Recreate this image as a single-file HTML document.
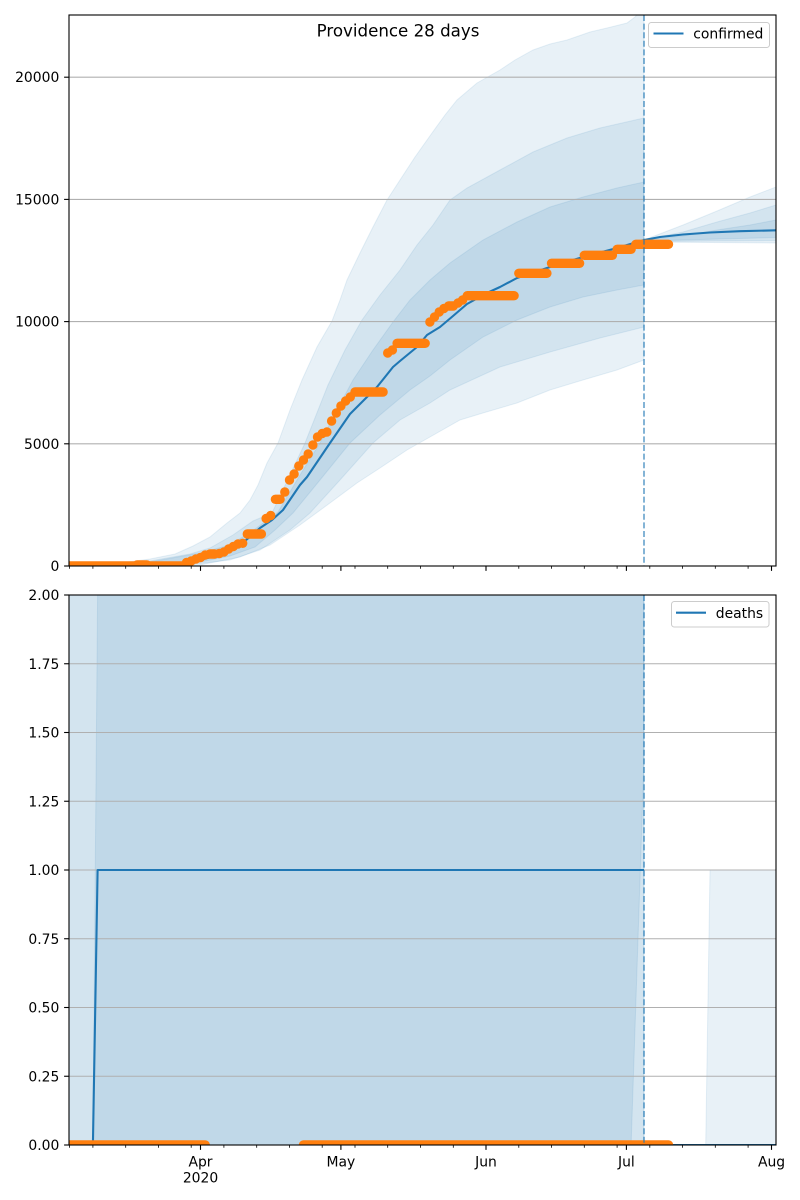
<!DOCTYPE html>
<html>
<head>
<meta charset="utf-8">
<style>
  html,body{margin:0;padding:0;background:#fff;}
  svg{display:block;}
  text{font-family:"DejaVu Sans","Liberation Sans",sans-serif;fill:#000;}
</style>
</head>
<body>
<svg width="800" height="1200" viewBox="0 0 800 1200" xmlns="http://www.w3.org/2000/svg">
  <defs>
    <clipPath id="c1"><rect x="69" y="15" width="707" height="551"/></clipPath>
    <clipPath id="c2"><rect x="69" y="595" width="707" height="550"/></clipPath>
  </defs>
  <rect width="800" height="1200" fill="#fff"/>

  <!-- ================= TOP AXES ================= -->
  <g clip-path="url(#c1)">
    <g fill="#1f77b4" fill-opacity="0.1" stroke="#1f77b4" stroke-opacity="0.1" stroke-width="1">
      <polygon points="69,566 110,564.5 150,559 175,554 193,546 210,537 227,523 240,513 250,500 258,485 267,463 278,443 290,410 302,380 317,347 332,321 340,300 347,280 360,253 373,227 387,200 400,180 415,157 432,133 445,115 457,100 477,83 500,70 515,60 533,50 550,44 567,40 590,32 607,28 627,23 635,17 641,10 644,3 644,360 617,370 583,380 550,390 517,403 483,413 460,420 430,437 407,450 380,468 357,483 330,503 300,525 270,545 240,557 200,565 150,566 69,566"/>
      <polygon points="69,566 150,561 190,554 210,548 233,535 253,521 272,513 290,475 305,443 328,385 345,350 362,320 380,295 400,270 417,245 433,225 450,200 467,188 500,170 533,152 567,138 600,128 644,118 644,327 600,338 550,352 500,367 450,390 430,403 400,420 373,443 340,480 310,513 290,530 260,550 230,560 200,563.5 150,565.5 69,566"/>
      <polygon points="69,566 150,562 200,553 230,545 255,529 270,518 278,512 300,475 320,443 337,410 353,380 373,350 393,322 410,300 430,280 450,263 483,240 517,222 550,207 583,197 617,188 644,182 644,285 617,290 583,297 550,307 517,320 483,337 450,360 430,376 410,390 380,415 350,443 320,480 293,513 275,530 255,547 230,556 200,562 150,565 69,566"/>
      <polygon points="644,240 683,225 717,211 750,197 776,187 776,243 644,242"/>
      <polygon points="644,240 683,232 717,222 750,213 776,205 776,240.5 644,241.5"/>
      <polygon points="644,240 683,236 717,230 750,225 776,220 776,237.5 644,241"/>
    </g>
    <g stroke="#b0b0b0" stroke-width="1.1">
      <line x1="69" y1="443.8" x2="776" y2="443.8"/>
      <line x1="69" y1="321.6" x2="776" y2="321.6"/>
      <line x1="69" y1="199.4" x2="776" y2="199.4"/>
      <line x1="69" y1="77.2" x2="776" y2="77.2"/>
    </g>
    <polyline fill="none" stroke="#1f77b4" stroke-width="2.1" stroke-linejoin="round" points="69.5,566 100,565.8 130,565.5 160,564.5 180,563 200,560 215,556 230,549.5 245,541 260,528 272,520 283,510 300,485 307,477 330,443 350,414 377,387 393,367 400,361 417,347 427,335 440,327 453,316 467,304 487,293 500,287 517,278 550,267 583,257 617,248 644,240"/>
    <polyline fill="none" stroke="#1f77b4" stroke-width="2.1" stroke-linejoin="round" points="644,240 660,237 683,234.5 710,232.5 740,231.2 776,230.3"/>
    <path fill="none" stroke="#ff7f0e" stroke-width="9.4" stroke-linecap="round"
      d="M69.5 566H181.8 M137 565H147
         M186.5 562.5h0 M191.2 561h0 M195.9 559h0 M200.5 557.5h0 M205.2 555h0 M209.9 554H214.6 M219.3 553.5h0 M223.9 552h0 M228.6 549h0 M233.3 546.5h0 M238 544h0 M242.7 543.3h0
         M247.3 534H261.4 M266.1 518.5h0 M270.7 515.5h0 M275.4 499.3H280.1 M284.8 492h0 M289.5 480h0 M294.1 474h0 M298.8 466h0 M303.5 460h0 M308.2 454h0 M312.9 445h0 M317.5 437h0 M322.2 433.5h0 M326.9 432h0 M331.6 421h0 M336.3 413h0 M340.9 406h0 M345.6 401h0 M350.3 397h0
         M355 392H383.1 M387.7 353h0 M392.4 350h0 M397.1 343.3H425.2 M429.9 322h0 M434.5 317h0 M439.2 312h0 M443.9 308.5h0 M448.6 306H453.3 M458 303h0 M462.6 300h0
         M467.3 295.7H514.1 M518.8 273.3H546.9 M551.5 263.3H579.6 M584.3 255.3H612.4 M617.1 249.3H631.1 M635.8 244.3H668.5"/>
    <line x1="644" y1="15" x2="644" y2="566" stroke="#1f77b4" stroke-opacity="0.55" stroke-width="2" stroke-dasharray="6,2.6"/>
  </g>
  <rect x="69" y="15" width="707" height="551" fill="none" stroke="#000" stroke-width="1.1"/>
  <g stroke="#000" stroke-width="1.1">
    <line x1="64.1" y1="566" x2="69" y2="566"/>
    <line x1="64.1" y1="443.8" x2="69" y2="443.8"/>
    <line x1="64.1" y1="321.6" x2="69" y2="321.6"/>
    <line x1="64.1" y1="199.4" x2="69" y2="199.4"/>
    <line x1="64.1" y1="77.2" x2="69" y2="77.2"/>
  </g>
  <g font-size="13.9" text-anchor="end">
    <text x="59.3" y="571">0</text>
    <text x="59.3" y="448.8">5000</text>
    <text x="59.3" y="326.6">10000</text>
    <text x="59.3" y="204.4">15000</text>
    <text x="59.3" y="82.2">20000</text>
  </g>
  <g stroke="#000" stroke-width="1.1">
    <path d="M200.5 566v4.9 M340.9 566v4.9 M486 566v4.9 M626.4 566v4.9 M771.5 566v4.9"/>
    <path stroke-width="0.8" d="M69.5 566v2.8 M92.9 566v2.8 M125.7 566v2.8 M158.4 566v2.8 M191.2 566v2.8 M223.9 566v2.8 M256.7 566v2.8 M289.5 566v2.8 M322.2 566v2.8 M355 566v2.8 M387.7 566v2.8 M420.5 566v2.8 M453.3 566v2.8 M518.8 566v2.8 M551.5 566v2.8 M584.3 566v2.8 M617.1 566v2.8 M649.8 566v2.8 M682.6 566v2.8 M715.3 566v2.8 M748.1 566v2.8"/>
  </g>
  <text x="398" y="36.5" font-size="16.67" text-anchor="middle">Providence 28 days</text>
  <rect x="648.5" y="22.5" width="121" height="25" rx="2.8" fill="#fff" fill-opacity="0.8" stroke="#cccccc" stroke-width="1"/>
  <line x1="653.5" y1="33.5" x2="683.5" y2="33.5" stroke="#1f77b4" stroke-width="2.1"/>
  <text x="693.3" y="38.5" font-size="13.9">confirmed</text>

  <!-- ================= BOTTOM AXES ================= -->
  <g clip-path="url(#c2)">
    <g fill="#1f77b4" fill-opacity="0.1" stroke="#1f77b4" stroke-opacity="0.1" stroke-width="1">
      <polygon points="69,585 644,585 644,1145 69,1145"/>
      <polygon points="69,585 644,585 644,1145 69,1145"/>
      <polygon points="92.9,1145 97.6,595 97.6,585 644,585 644,760 631.1,1145"/>
      <polygon points="644,1145 705.7,1145 710,870 780,870 780,1145"/>
    </g>
    <g stroke="#b0b0b0" stroke-width="1.1">
      <line x1="69" y1="1076.25" x2="776" y2="1076.25"/>
      <line x1="69" y1="1007.5" x2="776" y2="1007.5"/>
      <line x1="69" y1="938.75" x2="776" y2="938.75"/>
      <line x1="69" y1="870" x2="776" y2="870"/>
      <line x1="69" y1="801.25" x2="776" y2="801.25"/>
      <line x1="69" y1="732.5" x2="776" y2="732.5"/>
      <line x1="69" y1="663.75" x2="776" y2="663.75"/>
    </g>
    <polyline fill="none" stroke="#1f77b4" stroke-width="2.1" stroke-linejoin="round" points="69.5,1145 92.9,1145 97.6,870 644,870"/>
    <polyline fill="none" stroke="#1f77b4" stroke-width="2.1" points="644,1145 776,1145"/>
    <path fill="none" stroke="#ff7f0e" stroke-width="9.4" stroke-linecap="round" d="M69.5 1145H205.2 M303.5 1145H668.5"/>
    <line x1="644" y1="595" x2="644" y2="1145" stroke="#1f77b4" stroke-opacity="0.55" stroke-width="2" stroke-dasharray="6,2.6"/>
  </g>
  <rect x="69" y="595" width="707" height="550" fill="none" stroke="#000" stroke-width="1.1"/>
  <g stroke="#000" stroke-width="1.1">
    <line x1="64.1" y1="1145" x2="69" y2="1145"/>
    <line x1="64.1" y1="1076.25" x2="69" y2="1076.25"/>
    <line x1="64.1" y1="1007.5" x2="69" y2="1007.5"/>
    <line x1="64.1" y1="938.75" x2="69" y2="938.75"/>
    <line x1="64.1" y1="870" x2="69" y2="870"/>
    <line x1="64.1" y1="801.25" x2="69" y2="801.25"/>
    <line x1="64.1" y1="732.5" x2="69" y2="732.5"/>
    <line x1="64.1" y1="663.75" x2="69" y2="663.75"/>
    <line x1="64.1" y1="595" x2="69" y2="595"/>
  </g>
  <g font-size="13.9" text-anchor="end">
    <text x="59.3" y="1150">0.00</text>
    <text x="59.3" y="1081.25">0.25</text>
    <text x="59.3" y="1012.5">0.50</text>
    <text x="59.3" y="943.75">0.75</text>
    <text x="59.3" y="875">1.00</text>
    <text x="59.3" y="806.25">1.25</text>
    <text x="59.3" y="737.5">1.50</text>
    <text x="59.3" y="668.75">1.75</text>
    <text x="59.3" y="600">2.00</text>
  </g>
  <g stroke="#000" stroke-width="1.1">
    <path d="M200.5 1145v4.9 M340.9 1145v4.9 M486 1145v4.9 M626.4 1145v4.9 M771.5 1145v4.9"/>
    <path stroke-width="0.8" d="M69.5 1145v2.8 M92.9 1145v2.8 M125.7 1145v2.8 M158.4 1145v2.8 M191.2 1145v2.8 M223.9 1145v2.8 M256.7 1145v2.8 M289.5 1145v2.8 M322.2 1145v2.8 M355 1145v2.8 M387.7 1145v2.8 M420.5 1145v2.8 M453.3 1145v2.8 M518.8 1145v2.8 M551.5 1145v2.8 M584.3 1145v2.8 M617.1 1145v2.8 M649.8 1145v2.8 M682.6 1145v2.8 M715.3 1145v2.8 M748.1 1145v2.8"/>
  </g>
  <g font-size="13.9" text-anchor="middle">
    <text x="200.5" y="1166.5">Apr</text>
    <text x="200.5" y="1182.5">2020</text>
    <text x="340.9" y="1166.5">May</text>
    <text x="486" y="1166.5">Jun</text>
    <text x="626.4" y="1166.5">Jul</text>
    <text x="771.5" y="1166.5">Aug</text>
  </g>
  <rect x="671.5" y="601.5" width="97.5" height="25.5" rx="2.8" fill="#fff" fill-opacity="0.8" stroke="#cccccc" stroke-width="1"/>
  <line x1="676" y1="612.7" x2="706" y2="612.7" stroke="#1f77b4" stroke-width="2.1"/>
  <text x="715.8" y="617.8" font-size="13.9">deaths</text>
</svg>
</body>
</html>
